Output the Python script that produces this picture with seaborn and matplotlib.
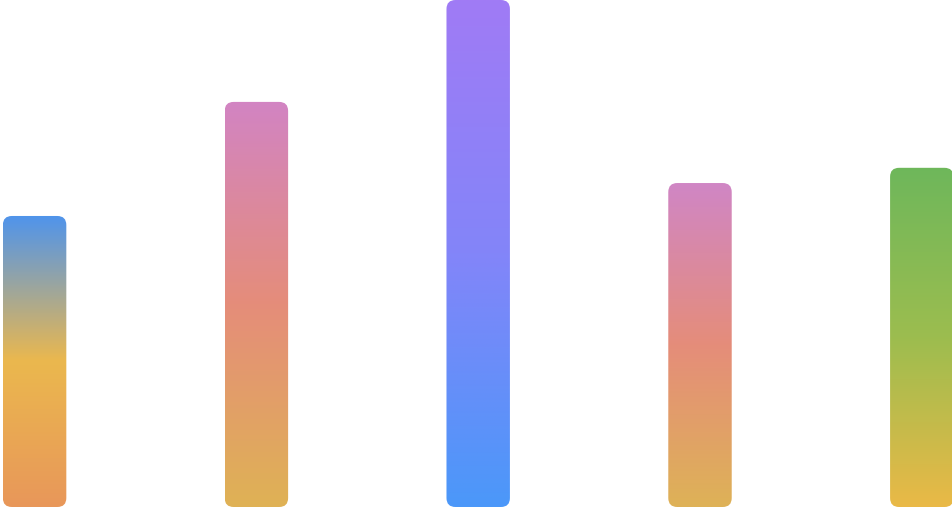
import numpy as np
import pandas as pd
import seaborn as sns
import matplotlib
matplotlib.use("Agg")
import matplotlib.pyplot as plt
from matplotlib.colors import LinearSegmentedColormap
from matplotlib.patches import FancyBboxPatch

# ---- data ----
categories = ["A", "B", "C", "D", "E"]
values = [57.4, 79.9, 100.0, 63.9, 66.9]

# gradient stops (bottom -> top) per bar
gradients = [
    ["#E8975A", "#EBB84E", "#4F94EC"],
    ["#DFB255", "#E58D7A", "#D284C3"],
    ["#4B98F9", "#8385F9", "#A07BF5"],
    ["#DEB257", "#E58D7A", "#D086C5"],
    ["#EAB947", "#9CBD4F", "#6EB75B"],
]

df = pd.DataFrame({"cat": categories, "val": values})

W, H = 953, 507
fig = plt.figure(figsize=(W / 100, H / 100), dpi=100)
ax = fig.add_axes([0, 0, 1, 1])
sns.set_style("white")

bar_w = 0.286
sns.barplot(data=df, x="cat", y="val", width=bar_w, ax=ax, color="white",
            linewidth=0, saturation=1)

step_px = 221.8
first_px = 34.6
x_per_px = 1 / step_px
y_per_px = 100 / H
aspect = y_per_px / x_per_px
radius_px = 9

for patch, stops in zip(list(ax.patches), gradients):
    x0, y0 = patch.get_x(), patch.get_y()
    w, h = patch.get_width(), patch.get_height()
    patch.set_visible(False)
    rp = FancyBboxPatch((x0, y0), w, h,
                        boxstyle=f"round,pad=0,rounding_size={radius_px * x_per_px}",
                        mutation_aspect=aspect, linewidth=0,
                        facecolor="none", edgecolor="none")
    ax.add_patch(rp)
    cmap = LinearSegmentedColormap.from_list("g", stops)
    grad = np.linspace(0, 1, 256).reshape(-1, 1)
    im = ax.imshow(grad, cmap=cmap, origin="lower", aspect="auto",
                   extent=(x0, x0 + w, y0, y0 + h), interpolation="bilinear",
                   zorder=2)
    im.set_clip_path(rp)

ax.axis("off")
ax.set_xlim(-first_px / step_px, (W - first_px) / step_px)
ax.set_ylim(0, 100)
fig.savefig("out.png", dpi=100)
